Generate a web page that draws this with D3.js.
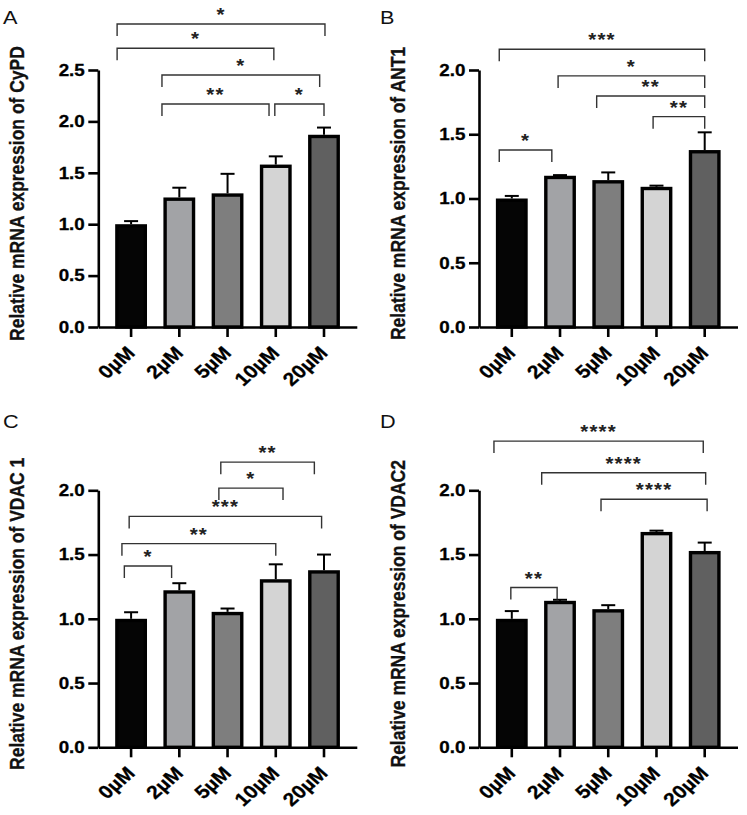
<!DOCTYPE html>
<html>
<head>
<meta charset="utf-8">
<script src="https://cdn.jsdelivr.net/npm/d3@7"></script>
<style>
  html, body { margin: 0; padding: 0; background: #fff; }
  svg { display: block; }
  text { font-family: "Liberation Sans", Arial, sans-serif; }
</style>
</head>
<body>
<svg id="chart" width="747" height="815"></svg>
<script>
// ---------------- data ----------------
const categories = ["0µM", "2µM", "5µM", "10µM", "20µM"];

const cypdValues = [1.00, 1.26, 1.30, 1.58, 1.87];
const cypdErrors = [0.03, 0.095, 0.19, 0.08, 0.07];
const ant1Values = [1.00, 1.177, 1.143, 1.091, 1.377];
const ant1Errors = [0.02, 0.005, 0.06, 0.009, 0.138];
const vdac1Values = [1.00, 1.222, 1.054, 1.308, 1.378];
const vdac1Errors = [0.051, 0.055, 0.026, 0.116, 0.122];
const vdac2Values = [1.00, 1.140, 1.075, 1.676, 1.528];
const vdac2Errors = [0.06, 0.008, 0.031, 0.01, 0.065];

const yTicksA = [0, 0.5, 1.0, 1.5, 2.0, 2.5];
const yTicksB = [0, 0.5, 1.0, 1.5, 2.0];

// significance brackets: [from (category index), to (category index), level (y value), label]
const cypdBrackets = [
  [-0.29, 4.02, 2.947, "*"],
  [-0.29, 2.96, 2.711, "*"],
  [0.64, 3.91, 2.451, "*"],
  [0.64, 2.86, 2.169, "**"],
  [2.98, 4.00, 2.169, "*"]
];
const ant1Brackets = [
  [-0.26, 4.00, 2.162, "***"],
  [0.96, 4.00, 1.954, "*"],
  [1.76, 4.00, 1.798, "**"],
  [2.93, 4.00, 1.637, "**"],
  [-0.26, 0.83, 1.377, "*"]
];
const vdac1Brackets = [
  [1.86, 3.80, 2.219, "**"],
  [1.82, 3.15, 2.017, "*"],
  [-0.04, 3.95, 1.797, "***"],
  [-0.19, 3.00, 1.585, "**"],
  [-0.14, 0.84, 1.411, "*"]
];
const vdac2Brackets = [
  [-0.37, 3.97, 2.383, "****"],
  [0.62, 4.02, 2.137, "****"],
  [1.85, 4.05, 1.930, "****"],
  [-0.02, 0.94, 1.243, "**"]
];

// ---------------- styles / layout ----------------
const barFills = ["#050505", "#a2a3a6", "#7e7e7e", "#d4d4d4", "#606060"];
const SX = 1.14; // horizontal text stretch of the reference

const panels = [
  { letter: "A", gene: "CyPD",   values: cypdValues,  errors: cypdErrors,  ticks: yTicksA, brackets: cypdBrackets,  ox: 0,     oy: 0 },
  { letter: "B", gene: "ANT1",   values: ant1Values,  errors: ant1Errors,  ticks: yTicksB, brackets: ant1Brackets,  ox: 380.7, oy: 0 },
  { letter: "C", gene: "VDAC 1", values: vdac1Values, errors: vdac1Errors, ticks: yTicksB, brackets: vdac1Brackets, ox: 0,     oy: 420.3 },
  { letter: "D", gene: "VDAC2",  values: vdac2Values, errors: vdac2Errors, ticks: yTicksB, brackets: vdac2Brackets, ox: 380.7, oy: 420.3 }
];

const svg = d3.select("#chart");
svg.append("rect").attr("width", 747).attr("height", 815).attr("fill", "#fff");

panels.forEach(p => {
  const left = 98.3 + p.ox, right = left + 258.5;
  const top = 70 + p.oy, bottom = 327 + p.oy;
  const g = svg.append("g");

  const yMax = d3.max(p.ticks);
  const y = d3.scaleLinear().domain([0, yMax]).range([bottom, top]);
  const x = d3.scaleBand().domain(categories).range([left, right])
    .paddingInner(0.34).paddingOuter(0.35);
  const cx = d => x(d) + x.bandwidth() / 2;
  const idx = d3.scaleLinear().domain([0, categories.length - 1])
    .range([cx(categories[0]), cx(categories[categories.length - 1])]);

  // panel letter
  const letterY = p.oy === 0 ? 24 : 428.3;
  g.append("text")
    .attr("transform", `translate(${3 + p.ox * 0.99},${letterY}) scale(${SX},1)`)
    .attr("font-size", 19).attr("fill", "#111").text(p.letter);

  // y axis title
  g.append("text")
    .attr("transform", `translate(${left - 74.5},${(top + bottom) / 2 - 5}) scale(${SX},1) rotate(-90)`)
    .attr("text-anchor", "middle").attr("font-size", 17.5).attr("font-weight", "bold")
    .attr("fill", "#111").attr("stroke", "#111").attr("stroke-width", 0.3)
    .text("Relative mRNA expression of " + p.gene);

  // bars
  g.selectAll("rect.bar").data(p.values).join("rect")
    .attr("class", "bar")
    .attr("x", (d, i) => x(categories[i]) + 1.7)
    .attr("width", x.bandwidth() - 3.4)
    .attr("y", d => y(d) + 1.7)
    .attr("height", d => y(0) - y(d) - 1.7)
    .attr("fill", (d, i) => barFills[i])
    .attr("stroke", "#000").attr("stroke-width", 3.4);

  // error bars (upper)
  const eg = g.append("g").attr("stroke", "#000").attr("stroke-width", 2).attr("fill", "none");
  p.values.forEach((v, i) => {
    const c = cx(categories[i]);
    const yt = y(v + p.errors[i]);
    eg.append("line").attr("x1", c).attr("x2", c).attr("y1", y(v)).attr("y2", yt);
    eg.append("line").attr("x1", c - 7).attr("x2", c + 7).attr("y1", yt).attr("y2", yt);
  });

  // y axis
  const yAxis = g.append("g").attr("transform", `translate(${left},0)`)
    .call(d3.axisLeft(y).tickValues(p.ticks).tickFormat(d3.format(".1f"))
      .tickSize(10).tickSizeOuter(0).tickPadding(3));
  yAxis.select(".domain").attr("stroke", "#000").attr("stroke-width", 2.6);
  yAxis.selectAll(".tick line").attr("stroke", "#000").attr("stroke-width", 2.6);
  yAxis.selectAll(".tick text")
    .attr("x", null)
    .attr("transform", `translate(-13.5,0) scale(${SX},1)`)
    .attr("font-size", 16.5).attr("font-weight", "bold").attr("fill", "#000")
    .attr("stroke", "#000").attr("stroke-width", 0.3)
    .attr("font-family", "Liberation Sans, Arial, sans-serif");

  // x axis
  const xAxis = g.append("g").attr("transform", `translate(0,${bottom})`)
    .call(d3.axisBottom(x).tickSize(10).tickSizeOuter(0));
  xAxis.select(".domain").attr("stroke", "#000").attr("stroke-width", 2.6);
  xAxis.selectAll(".tick line").attr("stroke", "#000").attr("stroke-width", 2.6);
  xAxis.selectAll(".tick text")
    .attr("y", null).attr("dy", null)
    .attr("text-anchor", "end")
    .attr("transform", `translate(5,27) scale(${SX},1) rotate(-45)`)
    .attr("font-size", 18.5).attr("font-weight", "bold").attr("fill", "#000")
    .attr("stroke", "#000").attr("stroke-width", 0.3)
    .attr("font-family", "Liberation Sans, Arial, sans-serif");

  // significance brackets
  const bg = g.append("g");
  p.brackets.forEach(([a, b, lvl, lab]) => {
    const x1 = idx(a), x2 = idx(b), yl = y(lvl);
    bg.append("path")
      .attr("d", `M${x1},${yl + 12}V${yl}H${x2}V${yl + 12}`)
      .attr("fill", "none").attr("stroke", "#333").attr("stroke-width", 1.4);
    bg.append("text")
      .attr("transform", `translate(${(x1 + x2) / 2},${yl - 3}) scale(${SX},1)`)
      .attr("text-anchor", "middle").attr("font-size", 18).attr("font-weight", "bold")
      .attr("letter-spacing", 1)
      .attr("fill", "#222").text(lab);
  });
});
</script>
</body>
</html>
